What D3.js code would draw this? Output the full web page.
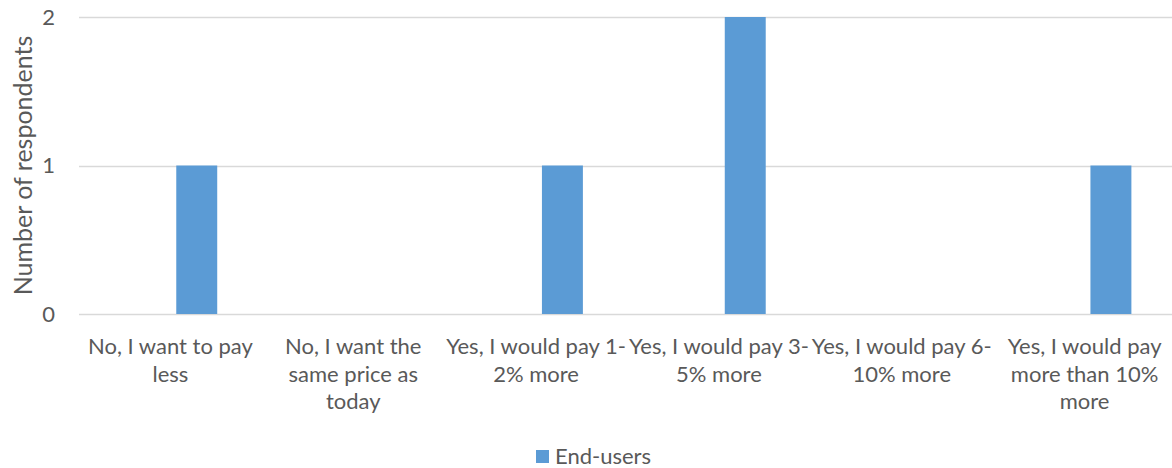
<!DOCTYPE html>
<html>
<head>
<meta charset="utf-8">
<script src="https://cdn.jsdelivr.net/npm/d3@7"></script>
<style>
  html, body { margin: 0; padding: 0; background: #fff; }
  svg { display: block; }
  text { font-family: Lato, "Open Sans", sans-serif; fill: #595959; }
</style>
</head>
<body>
<svg id="chart" width="1172" height="468"></svg>
<script>
// Survey answers: willingness to pay
const categories = [
  "No, I want to pay less",
  "No, I want the same price as today",
  "Yes, I would pay 1-2% more",
  "Yes, I would pay 3-5% more",
  "Yes, I would pay 6-10% more",
  "Yes, I would pay more than 10% more"
];
const tickLabels = [
  ["No, I want to pay", "less"],
  ["No, I want the", "same price as", "today"],
  ["Yes, I would pay 1-", "2% more"],
  ["Yes, I would pay 3-", "5% more"],
  ["Yes, I would pay 6-", "10% more"],
  ["Yes, I would pay", "more than 10%", "more"]
];
const seriesName = "End-users";
const endUsers = [1, 0, 1, 2, 0, 1];
const yTicks = [0, 1, 2];

const svg = d3.select("#chart");
const margin = { left: 79, right: -4, top: 17, bottom: 154 };
const W = 1172, H = 468;
const fontSize = 22;

const x = d3.scaleBand()
  .domain(categories)
  .range([margin.left, W - margin.right])
  .paddingInner(0).paddingOuter(0);

const y = d3.scaleLinear()
  .domain([0, 2])
  .range([H - margin.bottom, margin.top]);

// horizontal gridlines
svg.append("g")
  .selectAll("line")
  .data(yTicks)
  .join("line")
  .attr("x1", margin.left)
  .attr("x2", W - margin.right)
  .attr("y1", d => Math.round(y(d)) + 0.5)
  .attr("y2", d => Math.round(y(d)) + 0.5)
  .attr("stroke", "#d9d9d9")
  .attr("stroke-width", 1.5);

// y-axis labels
const yAxis = d3.axisLeft(y).tickValues(yTicks).tickFormat(d3.format("d")).tickSize(0).tickPadding(0);
const yg = svg.append("g")
  .attr("transform", `translate(${margin.left - 24},0)`)
  .call(yAxis);
yg.select(".domain").remove();
yg.selectAll("text")
  .attr("font-size", fontSize)
  .attr("fill", "#595959")
  .style("font-family", "Lato, sans-serif");

// bars: the series sits in the right half of each category slot
const barStart = 0.532, barWidth = 0.224;
svg.append("g")
  .selectAll("rect")
  .data(categories.map((c, i) => ({ c, v: endUsers[i] })))
  .join("rect")
  .attr("x", d => x(d.c) + x.bandwidth() * barStart)
  .attr("width", x.bandwidth() * barWidth)
  .attr("y", d => y(d.v))
  .attr("height", d => y(0) - y(d.v))
  .attr("fill", "#5b9bd5");

// category labels
const xAxis = d3.axisBottom(x).tickSize(0).tickFormat("");
const xg = svg.append("g")
  .attr("transform", `translate(0,${y(0)})`)
  .call(xAxis);
xg.select(".domain").remove();
xg.selectAll(".tick").each(function(d, i) {
  const t = d3.select(this).append("text")
    .attr("text-anchor", "middle")
    .attr("font-size", fontSize)
    .attr("fill", "#595959")
    .style("font-family", "Lato, sans-serif");
  tickLabels[i].forEach((line, k) => {
    t.append("tspan").attr("x", 0).attr("y", 40 + k * 27.5).text(line);
  });
});

// y-axis title
svg.append("text")
  .attr("transform", `translate(32,${(y(0) + y(2)) / 2}) rotate(-90)`)
  .attr("text-anchor", "middle")
  .attr("font-size", 25)
  .text("Number of respondents");

// legend
const lg = svg.append("g").attr("transform", "translate(536,450)");
lg.append("rect").attr("width", 13).attr("height", 13).attr("fill", "#5b9bd5");
lg.append("text").attr("x", 19).attr("y", 14).attr("font-size", fontSize).text(seriesName);
</script>
</body>
</html>
